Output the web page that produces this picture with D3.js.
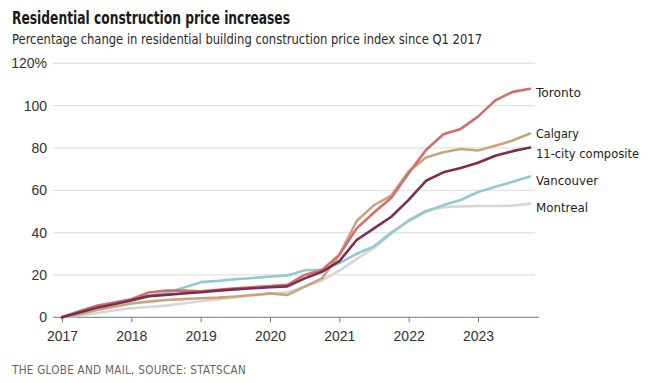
<!DOCTYPE html>
<html><head><meta charset="utf-8">
<script src="https://cdn.jsdelivr.net/npm/d3@7"></script>
<style>
body{margin:0;background:#fff;}
svg{display:block;font-family:"Liberation Sans Narrow","DejaVu Sans Condensed","Roboto",sans-serif;}
</style></head><body>
<svg id="c" width="650" height="383"></svg>
<script>
const quarters = d3.range(28).map(i => 2017 + i / 4);
const yearTicks = [2017, 2018, 2019, 2020, 2021, 2022, 2023];
const yTicks = [0, 20, 40, 60, 80, 100, 120];

const toronto = [0,2.7,5.4,6.9, 8.5,11.7,12.6,12.6, 12.3,13.0,13.7,14.2, 14.8,15.3,20,22.4, 29.5,42,49.5,56.5, 68,79,86.5,89, 94.8,102.5,106.5,108];
const calgary = [0,1.5,3.5,5, 6.5,7.4,8.2,8.6, 9,9.3,9.8,10.5, 11.3,10.5,14.5,18.4, 29.5,45.5,53,57.5, 69,75.5,78,79.5, 78.8,81,83.5,86.8];
const composite = [0,2.3,4.5,6.2, 8,10,10.6,11.3, 11.8,12.6,13.2,13.7, 14.2,14.6,18.4,21.5, 26.5,36.5,42,47.5, 55.5,64.5,68.5,70.5, 73,76.3,78.5,80.2];
const vancouver = [0,3,5.5,7, 8.5,10,11.5,14, 16.6,17.2,18,18.6, 19.2,19.8,22.2,22.4, 25.6,30,33.5,40, 45.5,50,53,55.4, 59.2,61.7,64,66.5];
const montreal = [0,0.8,2,3.2, 4.3,4.9,5.5,6.5, 7.6,8.4,9.5,10.3, 11.2,11.8,14.5,17.4, 22,27.5,32.8,39.5, 46,50.5,52,52.4, 52.6,52.6,52.7,53.7];

const seriesNames = ["Montreal", "Vancouver", "Calgary", "Toronto", "11-city composite"];
const seriesValues = [montreal, vancouver, calgary, toronto, composite];
const seriesColors = ["#d6d6d6", "#94c9d0", "#c8a57c", "#d46e6a", "#7a2e52"];
const labelY = {"Toronto": 92, "Calgary": 133, "11-city composite": 153, "Vancouver": 180, "Montreal": 207};
const labelW = {"Toronto": 45, "Calgary": 43, "11-city composite": 103, "Vancouver": 62, "Montreal": 52};

const svg = d3.select("#c");
const x = d3.scaleLinear().domain([2017, 2023.88]).range([62, 539]);
const y = d3.scaleLinear().domain([0, 120]).range([317.3, 63.3]);

// title
svg.append("text").attr("x", 12).attr("y", 24).attr("font-size", 17).attr("font-weight", "bold")
  .attr("fill", "#1a1a1a").attr("textLength", 278).attr("lengthAdjust", "spacingAndGlyphs")
  .text("Residential construction price increases");
svg.append("text").attr("x", 12).attr("y", 44).attr("font-size", 14.5)
  .attr("fill", "#2a2a2a").attr("textLength", 470).attr("lengthAdjust", "spacingAndGlyphs")
  .text("Percentage change in residential building construction price index since Q1 2017");

// grid
const yAxis = d3.axisLeft(y).tickValues(yTicks).tickSize(0).tickPadding(6)
  .tickFormat(d => d === 120 ? "120%" : d);
const gy = svg.append("g").attr("transform", "translate(53,0)").call(yAxis);
gy.select(".domain").remove();
gy.selectAll("text").attr("font-size", 14).attr("fill", "#333").attr("font-family", "inherit");
svg.append("g").selectAll("line").data(yTicks.filter(d => d > 0)).join("line")
  .attr("x1", 53).attr("x2", 535).attr("y1", d => y(d)).attr("y2", d => y(d))
  .attr("stroke", "#e2e2e2").attr("stroke-width", 1.2);

// x axis
const xAxis = d3.axisBottom(x).tickValues(yearTicks).tickFormat(d3.format("d")).tickSize(5).tickPadding(9);
const gx = svg.append("g").attr("transform", `translate(0,${y(0)})`).call(xAxis);
gx.select(".domain").attr("d", `M53,0H539`).attr("stroke", "#777");
gx.selectAll(".tick line").attr("stroke", "#777");
gx.selectAll("text").attr("font-size", 14).attr("fill", "#333").attr("font-family", "inherit");

// lines
const line = d3.line().x((d, i) => x(quarters[i])).y(d => y(d));
svg.append("g").selectAll("path").data(seriesValues).join("path")
  .attr("d", d => line(d)).attr("fill", "none")
  .attr("stroke", (d, i) => seriesColors[i]).attr("stroke-width", 2.6)
  .attr("stroke-linejoin", "round").attr("stroke-linecap", "round");

// labels
svg.append("g").selectAll("text").data(seriesNames).join("text")
  .attr("x", 536).attr("y", d => labelY[d]).attr("dy", "0.35em")
  .attr("font-size", 13).attr("fill", "#222")
  .attr("textLength", d => labelW[d]).attr("lengthAdjust", "spacingAndGlyphs")
  .text(d => d);

// footer
svg.append("text").attr("x", 12).attr("y", 374).attr("font-size", 12)
  .attr("fill", "#666").attr("letter-spacing", 0.3).attr("textLength", 234).attr("lengthAdjust", "spacingAndGlyphs")
  .text("THE GLOBE AND MAIL, SOURCE: STATSCAN");
</script>
</body></html>
